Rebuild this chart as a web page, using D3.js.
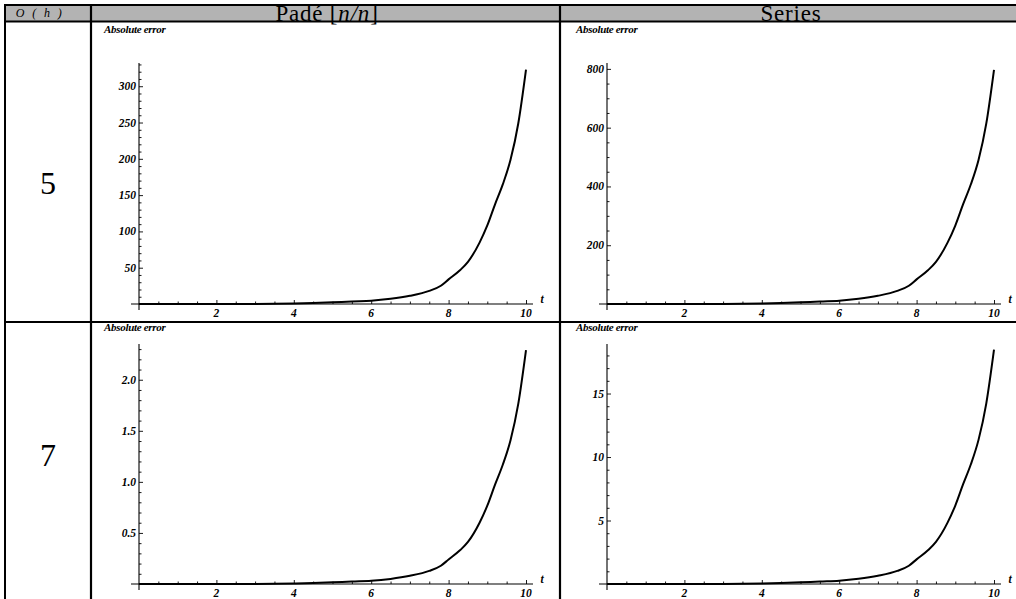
<!DOCTYPE html>
<html>
<head>
<meta charset="utf-8">
<script src="https://cdn.jsdelivr.net/npm/d3@7/dist/d3.min.js"></script>
<style>
  html, body { margin: 0; padding: 0; background: #fff; }
  svg { display: block; }
  .tick-label { font-family: "Liberation Serif", "Times New Roman", serif; font-weight: bold; font-style: italic; font-size: 11.5px; }
</style>
</head>
<body>
<svg id="chart" width="1016" height="599"></svg>
<script>
// ---------------- data ----------------
const columnTitles = ["Padé", "Series"];
const rowLabels = ["5", "7"];
const cornerLabel = "O ( h )";
const yAxisTitle = "Absolute error";
const xAxisTitle = "t";

const tValues  = [0, 1, 2, 3, 4, 4.5, 5, 5.5, 6, 6.5, 7, 7.5, 7.8, 8, 8.3, 8.5, 8.8, 9, 9.2, 9.4, 9.6, 9.8, 10];
const pade5    = [0, 0, 0, 0.1, 0.6, 1.3, 2.3, 3.6, 4.5, 7.1, 11.3, 18.1, 25.2, 33.9, 46.8, 58.1, 84.6, 108.2, 137.3, 164.7, 198.6, 248.7, 323];
const series5  = [0, 0, 0, 0.2, 1.6, 3.2, 5.6, 8.8, 11.2, 17.5, 27.9, 44.6, 62.2, 83.7, 115.6, 143.5, 208.8, 267, 338.7, 406.5, 490.2, 613.7, 797];
const pade7    = [0, 0, 0, 0.0007, 0.005, 0.009, 0.016, 0.025, 0.032, 0.05, 0.08, 0.128, 0.179, 0.24, 0.332, 0.412, 0.6, 0.767, 0.973, 1.168, 1.408, 1.763, 2.29];
const series7  = [0, 0, 0, 0.006, 0.04, 0.074, 0.13, 0.2, 0.26, 0.41, 0.65, 1.03, 1.44, 1.94, 2.68, 3.32, 4.83, 6.18, 7.84, 9.41, 11.35, 14.21, 18.45];

const xMajorTicks = [2, 4, 6, 8, 10];
const yMajorPade5   = [50, 100, 150, 200, 250, 300];
const yMajorSeries5 = [200, 400, 600, 800];
const yMajorPade7   = [0.5, 1.0, 1.5, 2.0];
const yMajorSeries7 = [5, 10, 15];
const yMinorStep  = [10, 50, 0.1, 1];
const yTickFormat = ["d", "d", ".1f", "d"];
const yRangeMax   = [332, 820, 2.35, 18.9];

const panelSeries = [pade5, series5, pade7, series7];
const panelMajors = [yMajorPade5, yMajorSeries5, yMajorPade7, yMajorSeries7];

// ---------------- layout ----------------
const W = 1016, H = 599;
const svg = d3.select("#chart");
svg.append("rect").attr("width", W).attr("height", H).attr("fill", "#fff");

const L = 5, T = 5, headerB = 21.5, colA = 91, colB = 560, rowB = 322;
svg.append("rect").attr("x", L).attr("y", T).attr("width", W - L).attr("height", headerB - T).attr("fill", "#b3b3b3");

const serif = "Liberation Serif, Times New Roman, serif";

// header texts (drawn before borders)
svg.append("text").attr("x", 40).attr("y", 17).attr("text-anchor", "middle")
  .attr("font-family", serif).attr("font-style", "italic").attr("font-size", 12)
  .attr("letter-spacing", 2.4).text(cornerLabel);

const pade = svg.append("text").attr("x", 327).attr("y", 20.5).attr("text-anchor", "middle")
  .attr("font-family", serif).attr("font-size", 23).attr("letter-spacing", 0.8);
pade.append("tspan").text(columnTitles[0] + " [");
pade.append("tspan").attr("font-style", "italic").text("n/n");
pade.append("tspan").text("]");

svg.append("text").attr("x", 791).attr("y", 20.5).attr("text-anchor", "middle")
  .attr("font-family", serif).attr("font-size", 23).attr("letter-spacing", 0.8).text(columnTitles[1]);

const line = (x1, y1, x2, y2, w) => svg.append("line").attr("x1", x1).attr("y1", y1).attr("x2", x2).attr("y2", y2)
  .attr("stroke", "#000").attr("stroke-width", w);
line(L - 1, T, W, T, 2);
line(L, headerB, W, headerB, 2.2);
line(L, rowB, W, rowB, 2.2);
line(L, T - 1, L, H, 2);
line(colA, T, colA, H, 2.2);
line(colB, T, colB, H, 2.2);

// row labels
svg.append("text").attr("x", 48).attr("y", 194).attr("text-anchor", "middle")
  .attr("font-family", serif).attr("font-size", 32).text(rowLabels[0]);
svg.append("text").attr("x", 48).attr("y", 466).attr("text-anchor", "middle")
  .attr("font-family", serif).attr("font-size", 32).text(rowLabels[1]);

// ---------------- panels ----------------
const colX0 = [139, 607], colX1 = [526, 994];
const rowAxisY = [304, 584], rowTopY = [63, 344];
const labelPos = [[104, 33], [576, 33], [104, 331], [576, 331]];

panelSeries.forEach((vals, i) => {
  const r = Math.floor(i / 2), c = i % 2;
  const x = d3.scaleLinear().domain([0, 10]).range([colX0[c], colX1[c]]);
  const y = d3.scaleLinear().domain([0, yRangeMax[i]]).range([rowAxisY[r], rowTopY[r]]);
  const g = svg.append("g");

  // y axis title
  g.append("text").attr("x", labelPos[i][0]).attr("y", labelPos[i][1])
    .attr("font-family", serif).attr("font-weight", "bold").attr("font-style", "italic")
    .attr("font-size", 11).attr("letter-spacing", -0.3).text(yAxisTitle);

  // x axis
  const xAxis = d3.axisTop(x).tickValues(d3.range(0.5, 10.01, 0.5)).tickSize(2.5).tickSizeOuter(0).tickFormat("");
  const gx = g.append("g").attr("transform", `translate(0,${rowAxisY[r]})`).call(xAxis);
  gx.select(".domain").remove();
  gx.selectAll(".tick line").attr("stroke", "#000").attr("stroke-width", 0.9)
    .attr("y2", d => (Math.abs(d % 2) < 1e-6 ? -4 : -2.5));
  g.append("line").attr("x1", x(0) - 8).attr("x2", x(10) + 7).attr("y1", rowAxisY[r]).attr("y2", rowAxisY[r])
    .attr("stroke", "#000").attr("stroke-width", 1.1);
  g.selectAll(".xlab").data(xMajorTicks).enter().append("text").attr("class", "tick-label")
    .attr("x", d => x(d)).attr("y", rowAxisY[r] + 12.5).attr("text-anchor", "middle").text(d => d);
  g.append("text").attr("class", "tick-label").attr("x", x(10) + 16).attr("y", rowAxisY[r] - 1)
    .attr("text-anchor", "middle").attr("font-size", 12).text(xAxisTitle);

  // y axis
  const minors = d3.range(yMinorStep[i], yRangeMax[i], yMinorStep[i]).filter(v => y(v) > rowTopY[r] + 0.5);
  const yAxis = d3.axisRight(y).tickValues(minors).tickSize(2.5).tickSizeOuter(0).tickFormat("");
  const gy = g.append("g").attr("transform", `translate(${x(0)},0)`).call(yAxis);
  gy.select(".domain").remove();
  const majorSet = panelMajors[i].map(v => +v.toFixed(4));
  gy.selectAll(".tick line").attr("stroke", "#000").attr("stroke-width", 0.9)
    .attr("x2", d => (majorSet.includes(+d.toFixed(4)) ? 4 : 2.5));
  g.append("line").attr("x1", x(0)).attr("x2", x(0)).attr("y1", rowTopY[r]).attr("y2", rowAxisY[r] + 6)
    .attr("stroke", "#000").attr("stroke-width", 1.1);
  const fmt = d3.format(yTickFormat[i]);
  g.selectAll(".ylab").data(panelMajors[i]).enter().append("text").attr("class", "tick-label")
    .attr("x", x(0) - 3).attr("y", d => y(d)).attr("dy", "0.35em").attr("text-anchor", "end").text(d => fmt(d));

  // curve
  const path = d3.line().x((d, k) => x(tValues[k])).y(d => y(d)).curve(d3.curveMonotoneX);
  g.append("path").datum(vals).attr("d", path).attr("fill", "none").attr("stroke", "#000").attr("stroke-width", 2);
});
</script>
</body>
</html>
